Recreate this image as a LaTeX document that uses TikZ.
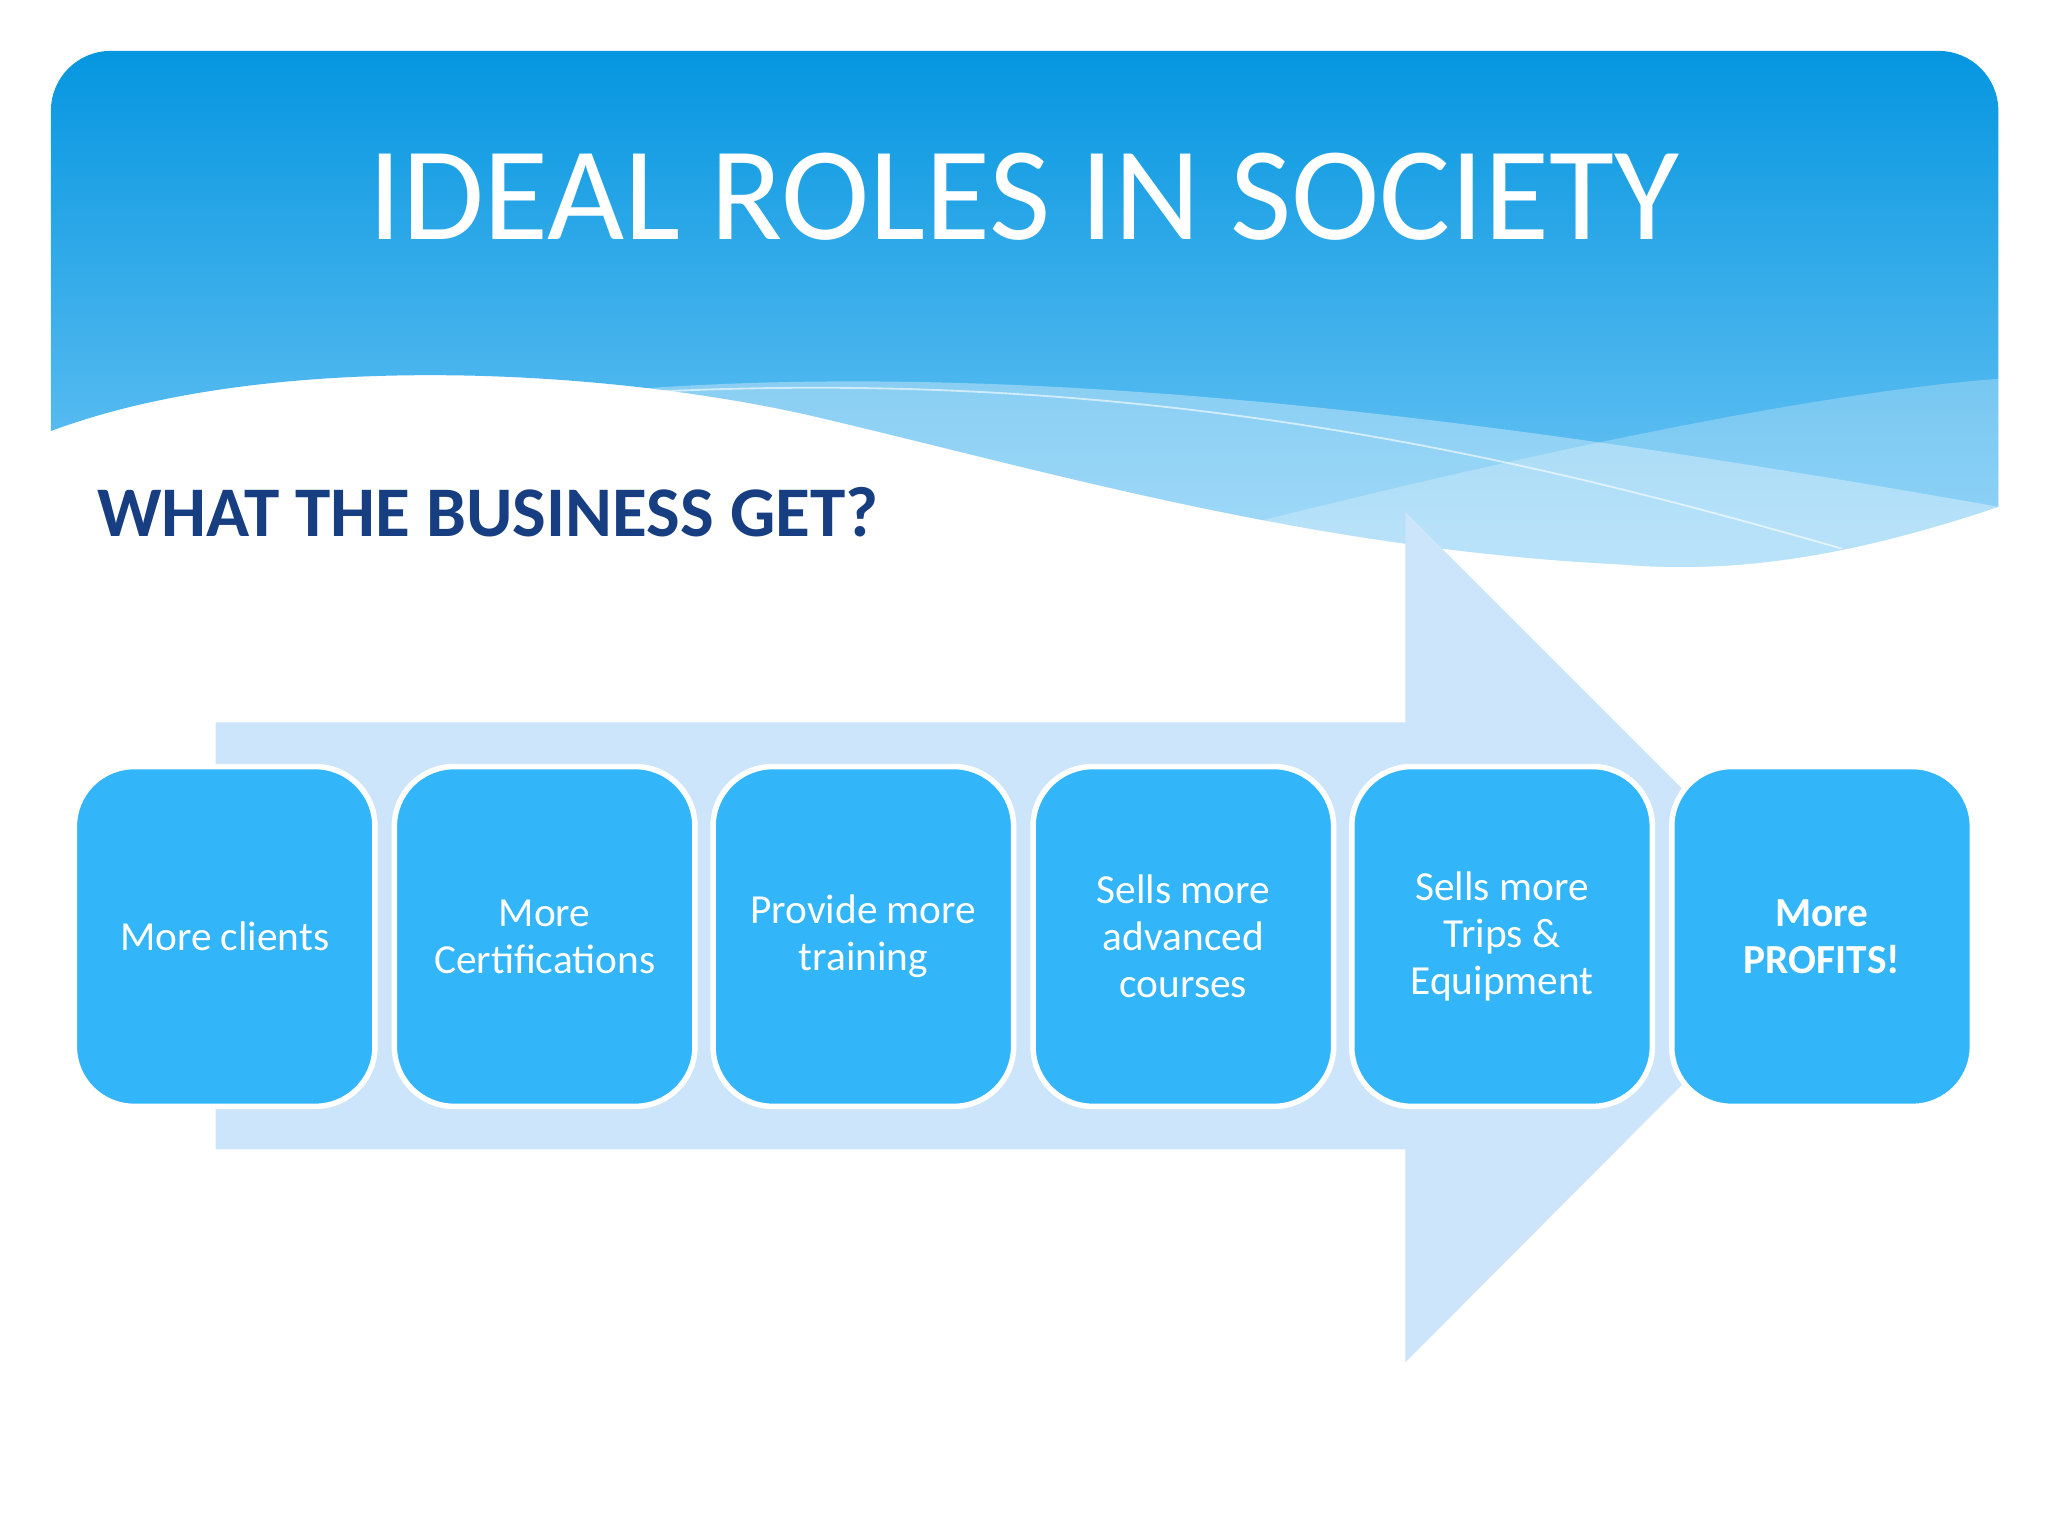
\documentclass[tikz,border=0pt]{standalone}
\usepackage{fontspec}
\setmainfont{Carlito}
\definecolor{topblue}{HTML}{0596E0}
\definecolor{botblue}{HTML}{74C8F6}
\definecolor{arrowblue}{HTML}{CCE5FB}
\definecolor{boxblue}{HTML}{33B5FA}
\definecolor{navy}{HTML}{173E80}
\tikzset{
  stepbox/.style={draw=white, line width=1.2pt, fill=boxblue, rounded corners=13pt,
    minimum width=2.3cm, minimum height=2.6cm, text=white, align=center,
    font=\fontsize{9}{10.2}\selectfont},
}
\begin{document}
\begin{tikzpicture}[x=0.01cm,y=-0.01cm]
\useasboundingbox (0,0) rectangle (1568,1176);
\fill[white] (0,0) rectangle (1568,1176);
% header
\shade[top color=topblue, bottom color=botblue]
  (39,330) [rounded corners=13] -- (39,39) -- (1530,39) [sharp corners] -- (1530,388)
  .. controls (1420,425) and (1330,440) .. (1240,432)
  .. controls (1000,420) and (800,360) .. (620,318)
  .. controls (450,280) and (200,270) .. (39,330) -- cycle;
% light waves
\fill[white,opacity=0.35] (460,300) .. controls (800,270) and (1200,330) .. (1530,388)
  .. controls (1420,425) and (1330,440) .. (1240,432)
  .. controls (1000,420) and (800,360) .. (620,318) .. controls (560,305) and (500,300) .. (460,300) -- cycle;
\fill[white,opacity=0.25] (960,400) .. controls (1200,340) and (1400,300) .. (1530,290)
  -- (1530,388) .. controls (1420,425) and (1330,440) .. (1240,432) .. controls (1120,425) and (1040,415) .. (960,400) -- cycle;
\draw[white,opacity=0.6,line width=0.4pt] (500,300) .. controls (900,280) and (1200,360) .. (1410,420);
% title
\node[text=white, font=\fontsize{29}{32}\selectfont, anchor=base] (title) at (784,183) {IDEAL ROLES IN SOCIETY};
\node[text=navy, font=\fontsize{15.5}{18}\selectfont\bfseries, anchor=base west] (sub) at (62,411) {WHAT THE BUSINESS GET?};
% big arrow
\fill[arrowblue] (165,553) -- (1076,553) -- (1076,392) -- (1401,717) -- (1076,1043) -- (1076,880) -- (165,880) -- cycle;
% boxes
\node[stepbox] (b1) at (172,717) {More clients};
\node[stepbox] (b2) at (417,717) {More\\Certifications};
\node[stepbox] (b3) at (661,717) {Provide more\\training};
\node[stepbox] (b4) at (906,717) {Sells more\\advanced\\courses};
\node[stepbox] (b5) at (1150,717) {Sells more\\Trips \&\\Equipment};
\node[stepbox, font=\fontsize{9}{10.2}\selectfont\bfseries] (b6) at (1395,717) {More\\PROFITS!};
\end{tikzpicture}
\end{document}
